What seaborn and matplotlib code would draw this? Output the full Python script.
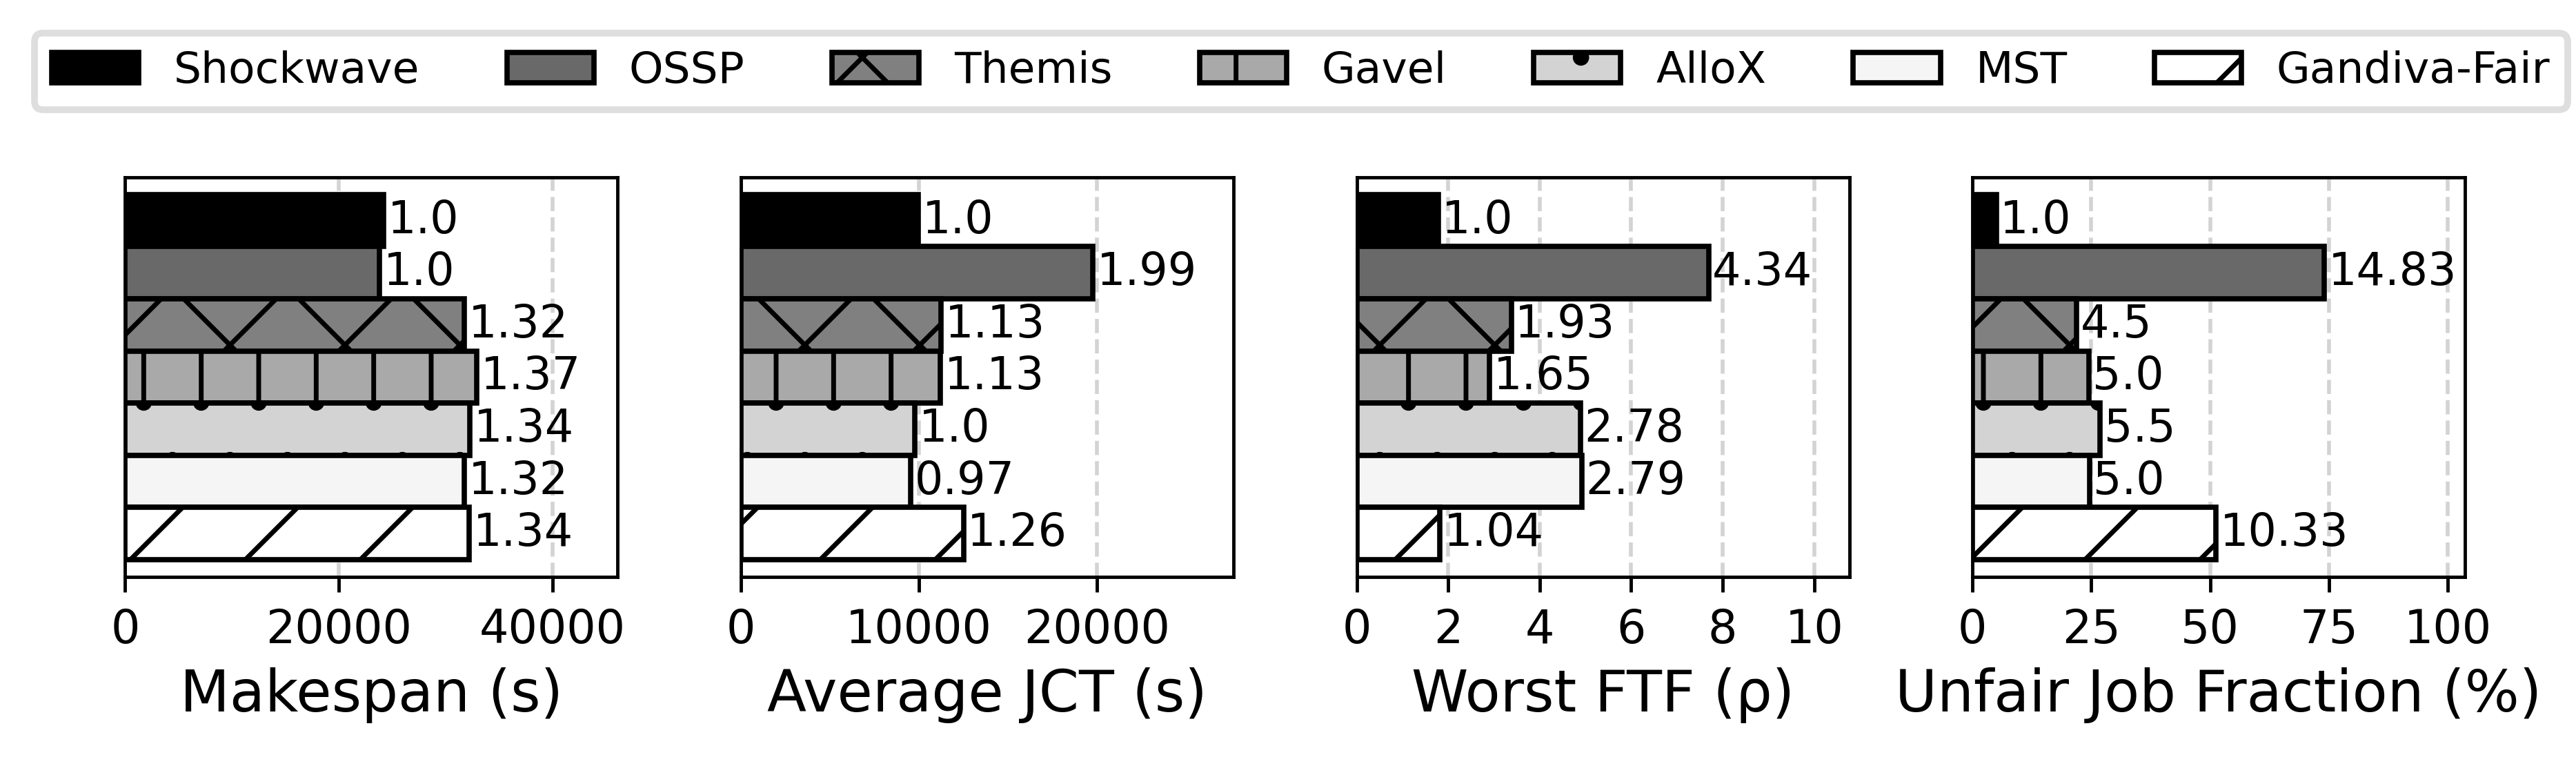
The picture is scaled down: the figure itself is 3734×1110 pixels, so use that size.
# =========================================
# SCHEDULER COMPARISON - HORIZONTAL BARS
# =========================================

import pandas as pd
import matplotlib
matplotlib.use("Agg")
import matplotlib.pyplot as plt
import matplotlib.patches as mpatches
import seaborn as sns

# -------------------------------
# DATA
# -------------------------------

methods = ["Shockwave", "OSSP", "Themis", "Gavel", "AlloX", "MST", "Gandiva-Fair"]

makespan = [24200, 23800, 31750, 32950, 32270, 31750, 32200]
avg_jct = [9960, 19770, 11240, 11200, 9770, 9540, 12510]
worst_ftf = [1.78, 7.69, 3.38, 2.90, 4.89, 4.92, 1.82]
unfair_frac = [5.0, 74.0, 21.9, 24.5, 26.9, 24.6, 51.2]

makespan_labels = ["1.0", "1.0", "1.32", "1.37", "1.34", "1.32", "1.34"]
jct_labels = ["1.0", "1.99", "1.13", "1.13", "1.0", "0.97", "1.26"]
ftf_labels = ["1.0", "4.34", "1.93", "1.65", "2.78", "2.79", "1.04"]
unfair_labels = ["1.0", "14.83", "4.5", "5.0", "5.5", "5.0", "10.33"]

makespan_ticks = [0, 20000, 40000]
jct_ticks = [0, 10000, 20000]
ftf_ticks = [0, 2, 4, 6, 8, 10]
unfair_ticks = [0, 25, 50, 75, 100]

xlabels = ["Makespan (s)", "Average JCT (s)", "Worst FTF (\u03c1)", "Unfair Job Fraction (%)"]

# -------------------------------
# STYLE
# -------------------------------

colors = ["black", "dimgray", "gray", "darkgray", "lightgray", "whitesmoke", "white"]
hatches = [None, None, "xx", "||", "..", None, "//"]

plt.rcParams["font.family"] = ["DejaVu Sans"]
plt.rcParams["hatch.linewidth"] = 0.5
plt.rcParams["axes.linewidth"] = 0.35
plt.rcParams["xtick.major.width"] = 0.35
plt.rcParams["xtick.major.size"] = 1.6
plt.rcParams["xtick.major.pad"] = 1.6

EDGE_LW = 0.55

panels = [
    (makespan, makespan_labels, makespan_ticks),
    (avg_jct, jct_labels, jct_ticks),
    (worst_ftf, ftf_labels, ftf_ticks),
    (unfair_frac, unfair_labels, unfair_ticks),
]

# =========================================
# CREATE FIGURE
# =========================================

fig, axes = plt.subplots(1, 4, figsize=(3.734, 1.11))
plt.subplots_adjust(left=0.0486, right=0.9569, bottom=0.247, top=0.7685, wspace=0.25)

for ax, (values, labels, ticks), xlabel in zip(axes, panels, xlabels):

    df = pd.DataFrame({"method": methods, "value": values})

    sns.barplot(
        data=df,
        x="value",
        y="method",
        hue="method",
        palette=colors,
        width=1.0,
        edgecolor="black",
        linewidth=EDGE_LW,
        errorbar=None,
        legend=False,
        ax=ax
    )

    for container, hatch, lbl in zip(ax.containers, hatches, labels):
        for bar in container:
            if hatch:
                bar.set_hatch(hatch)
        ax.bar_label(container, labels=[lbl], padding=0.4, fontsize=4.7)

    ax.set_xlim(0, max(values) * 1.4)
    ax.set_ylim(len(methods) - 0.5 + 0.33, -0.5 - 0.33)
    ax.set_xticks(ticks)
    ax.tick_params(axis="x", labelsize=4.8)
    ax.set_yticks([])
    ax.set_ylabel("")
    ax.set_xlabel(xlabel, fontsize=6, labelpad=1.5)

    ax.grid(axis="x", linestyle="--", color="lightgray", linewidth=0.4)
    ax.set_axisbelow(True)

# =========================================
# LEGEND
# =========================================

handles = [
    mpatches.Patch(facecolor=c, edgecolor="black", hatch=h, linewidth=EDGE_LW, label=m)
    for m, c, h in zip(methods, colors, hatches)
]

leg = fig.legend(
    handles=handles,
    ncol=7,
    loc="center",
    bbox_to_anchor=(0.505, 0.907),
    fontsize=4.55,
    frameon=True
)
leg.get_frame().set_edgecolor("0.84")
leg.get_frame().set_linewidth(0.7)

plt.savefig("out.png", dpi=1000)

plt.close()
